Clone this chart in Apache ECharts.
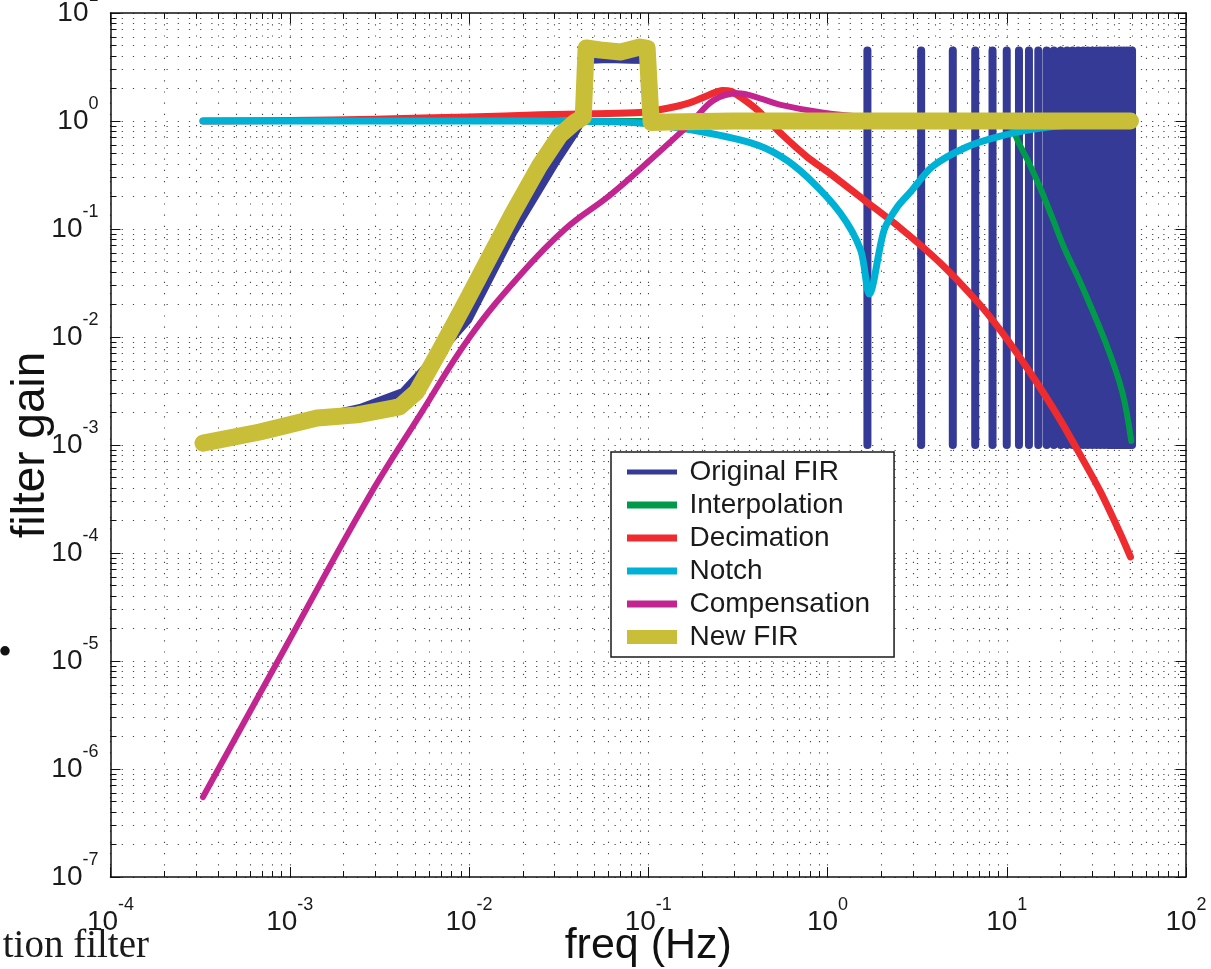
<!DOCTYPE html>
<html>
<head>
<meta charset="UTF-8">
<title>filter gain</title>
<script src="https://cdn.jsdelivr.net/npm/echarts@6/dist/echarts.min.js"></script>
<style>
  html, body { margin: 0; padding: 0; background: #fff; overflow: hidden; }
  #chart { width: 1211px; height: 969px; }
</style>
</head>
<body>
<div id="chart"></div>
<script>
// [freq (Hz), gain] pairs
var originalFir = [
    [3.28e-4, 1.04e-3], [6.8e-4, 1.32e-3], [1.42e-3, 1.8e-3], [2.47e-3, 2.2e-3],
    [4.28e-3, 3.1e-3], [6.47e-3, 6.5e-3], [9.9e-3, 0.0144], [0.0176, 0.092],
    [0.031, 0.435], [0.0391, 0.78], [0.0434, 1.07], [0.045, 3.67], [0.06, 3.75],
    [0.08, 3.7], [0.0997, 3.67], [0.1038, 1.0], [0.3, 1.0], [1.5, 1.0]
];
// comb notches of the original FIR (Hz), with the gain span of each spike
var combFreqs = [1.67, 3.33, 5.0, 6.67, 8.33, 10.0, 11.7, 13.3, 15.0, 16.7,
    18.3, 20.0, 21.7, 23.3, 25.0, 26.7, 28.3, 30.0, 31.7, 33.3,
    35.0, 36.7, 38.3, 40.0, 41.7, 43.3, 45.0, 46.7, 48.3, 50.0];
var combTop = 4.5;
var combBottom = 1e-3;

var interpolation = [
    [3.28e-4, 1.0], [5, 1.0], [9, 0.99], [10.4, 0.92], [11.7, 0.62], [13.2, 0.42],
    [15.3, 0.245], [18, 0.126], [21, 0.066], [26, 0.0308], [36, 0.00847],
    [44.1, 0.0031], [49.5, 0.00109]
];
var decimation = [
    [3.28e-4, 1.0], [1e-3, 1.01], [3e-3, 1.04], [0.01, 1.09], [0.025, 1.14], [0.05, 1.17],
    [0.09, 1.2], [0.13, 1.32], [0.17, 1.47], [0.215, 1.72], [0.26, 1.92], [0.29, 1.88],
    [0.326, 1.67], [0.407, 1.26], [0.548, 0.77], [0.776, 0.46], [1.0, 0.34], [1.6, 0.186],
    [2.55, 0.102], [4.26, 0.0484], [7.11, 0.0198], [9.2, 0.0116], [11.9, 0.0064],
    [15.4, 0.00337], [19.9, 0.0017], [25.7, 8.1e-4], [33.3, 3.7e-4], [43.1, 1.5e-4], [49, 9.2e-5]
];
var notch = [
    [3.28e-4, 1.0], [0.01, 1.0], [0.05, 0.99], [0.09, 0.96], [0.173, 0.83], [0.37, 0.63],
    [0.55, 0.47], [0.776, 0.30], [1.18, 0.14], [1.53, 0.064], [1.71, 0.025], [2.07, 0.098],
    [2.45, 0.16], [2.9, 0.22], [3.86, 0.38], [5.98, 0.575], [9.1, 0.72], [14, 0.84],
    [19.5, 0.9], [30, 0.95], [49, 0.97]
];
var compensation = [
    [3.28e-4, 5.5e-7], [9.6e-4, 1.4e-5], [2.7e-3, 3.1e-4], [5.33e-3, 1.9e-3], [0.0101, 0.01],
    [0.0193, 0.0375], [0.0344, 0.1], [0.0612, 0.206], [0.1026, 0.435], [0.173, 0.96],
    [0.232, 1.56], [0.316, 1.81], [0.42, 1.62], [0.548, 1.41], [0.95, 1.19], [1.7, 1.08],
    [3, 1.03], [10, 1.0], [49, 1.0]
];
var newFir = [
    [3.28e-4, 1.04e-3], [6.8e-4, 1.32e-3], [1.42e-3, 1.78e-3], [2.38e-3, 1.9e-3],
    [4.1e-3, 2.25e-3], [5.1e-3, 3.1e-3], [6.9e-3, 7.6e-3], [9.75e-3, 0.022], [0.0131, 0.056],
    [0.0176, 0.141], [0.0249, 0.392], [0.0322, 0.741], [0.0391, 0.98], [0.0434, 1.09],
    [0.045, 4.74], [0.054, 4.54], [0.07, 4.35], [0.09, 4.84], [0.0986, 4.7], [0.1038, 0.97],
    [0.13, 0.98], [0.3, 1.0], [1, 1.0], [10, 1.0], [49, 1.0]
];

var seriesNames = ['Original FIR', 'Interpolation', 'Decimation', 'Notch', 'Compensation', 'New FIR'];
var seriesColors = ['#343a96', '#009b4a', '#ee2b2f', '#00b1d6', '#c2258f', '#c8be38'];
var lineWidths = [8, 6, 7, 7, 6, 17];
var smoothness = [false, 0.35, 0.3, 0.3, 0.4, false];
var legendWidths = [5, 7, 7, 7, 7, 14];

// axis decades (exponents of 10)
var xExponents = [-4, -3, -2, -1, 0, 1, 2];
var yExponents = [-7, -6, -5, -4, -3, -2, -1, 0, 1];

var FONT = 'Liberation Sans, Arial, sans-serif';

function toLog(pts) {
    return pts.map(function (p) { return [Math.log10(p[0]), Math.log10(p[1])]; });
}

function minorPositions(exps) {
    var out = [];
    for (var i = 0; i < exps.length - 1; i++) {
        for (var k = 2; k <= 9; k++) out.push(exps[i] + Math.log10(k));
    }
    return out;
}

var blueData = originalFir.slice();
combFreqs.forEach(function (f) {
    blueData.push([f, 1], [f, combTop], [f, combBottom], [f, 1]);
});

var allData = [blueData, interpolation, decimation, notch, compensation, newFir];

var dotted = { type: [1.2, 10], color: '#444', width: 1.1 };
var labelRich = {
    b: { fontSize: 28, lineHeight: 52, verticalAlign: 'middle', fontFamily: FONT, color: '#1a1a1a' },
    s: { fontSize: 18, lineHeight: 18, verticalAlign: 'top', fontFamily: FONT, color: '#1a1a1a' }
};
function powLabel(v) {
    return '{b|10}{s|' + Math.round(v) + '}';
}

function makeAxes(exps, sides, isX) {
    var lo = exps[0], hi = exps[exps.length - 1];
    var minor = minorPositions(exps);
    var axes = [];
    sides.forEach(function (side, si) {
        var main = si === 0;
        // major ticks (+ labels on the main side)
        axes.push({
            type: 'value', position: side, min: lo, max: hi, interval: 1,
            axisLine: { show: true, onZero: false, lineStyle: { color: '#111', width: 1.5 } },
            axisTick: { show: true, inside: true, length: 10, lineStyle: { color: '#111', width: 1 } },
            axisLabel: main ? {
                show: true, margin: isX ? 19 : 12, formatter: powLabel, rich: labelRich,
                showMinLabel: true, showMaxLabel: true, hideOverlap: false
            } : { show: false },
            splitLine: main ? { show: true, lineStyle: dotted } : { show: false }
        });
        // minor ticks
        axes.push({
            type: 'value', position: side, min: lo, max: hi,
            axisLine: { show: false, onZero: false },
            axisTick: { show: true, inside: true, length: 6, customValues: minor,
                lineStyle: { color: '#111', width: 1 } },
            axisLabel: { show: false },
            splitLine: main ? { show: true, lineStyle: dotted } : { show: false }
        });
    });
    return axes;
}

var xAxes = makeAxes(xExponents, ['bottom', 'top'], true);
xAxes[0].name = 'freq (Hz)';
xAxes[0].nameLocation = 'middle';
xAxes[0].nameGap = 48;
xAxes[0].nameMoveOverlap = false;
xAxes[0].nameTextStyle = { fontSize: 43, lineHeight: 43, color: '#111', fontFamily: FONT };

var yAxes = makeAxes(yExponents, ['left', 'right'], false);
yAxes[0].name = 'filter gain';
yAxes[0].nameLocation = 'middle';
yAxes[0].nameGap = 56;
yAxes[0].nameMoveOverlap = false;
yAxes[0].nameTextStyle = { fontSize: 46, lineHeight: 46, color: '#111', fontFamily: FONT };

var series = seriesNames.map(function (name, i) {
    return {
        name: name,
        type: 'line',
        data: toLog(allData[i]),
        xAxisIndex: 0,
        yAxisIndex: 0,
        symbol: 'none',
        showSymbol: false,
        smooth: smoothness[i],
        lineStyle: { color: seriesColors[i], width: lineWidths[i], cap: 'round', join: 'round' },
        itemStyle: { color: seriesColors[i] },
        emphasis: { disabled: true },
        z: 2 + i
    };
});

var chart = echarts.init(document.getElementById('chart'), null, { renderer: 'canvas' });
chart.setOption({
    animation: false,
    backgroundColor: '#fff',
    textStyle: { fontFamily: FONT },
    grid: { left: 110.5, right: 25, top: 13, bottom: 92, containLabel: false, outerBoundsMode: 'none' },
    xAxis: xAxes,
    yAxis: yAxes,
    legend: {
        orient: 'vertical',
        left: 611,
        top: 452,
        backgroundColor: '#fff',
        borderColor: '#1a1a1a',
        borderWidth: 1.5,
        borderRadius: 0,
        padding: [6, 24, 6, 16],
        itemWidth: 50,
        itemHeight: 14,
        itemGap: 5,
        symbolKeepAspect: true,
        selectedMode: false,
        textStyle: { fontSize: 28, lineHeight: 28, color: '#1a1a1a', fontFamily: FONT, padding: [0, 0, 0, 7.5] },
        data: seriesNames.map(function (n, i) {
            return {
                name: n,
                icon: 'path://M0,0H50V' + legendWidths[i] + 'H0Z',
                itemStyle: { color: seriesColors[i] }
            };
        }),
        z: 20
    },
    graphic: [
        {
            type: 'text', x: 149, y: 966,
            style: { text: 'tion filter', font: '39px "Liberation Serif", "Times New Roman", serif',
                fill: '#1a1a1a', textAlign: 'right', textVerticalAlign: 'bottom' }
        },
        {
            type: 'text', x: 5, y: 654,
            style: { text: '•', font: '40px "Liberation Serif", serif', fill: '#111',
                textAlign: 'center', textVerticalAlign: 'middle' }
        }
    ],
    series: series
});
</script>
</body>
</html>
